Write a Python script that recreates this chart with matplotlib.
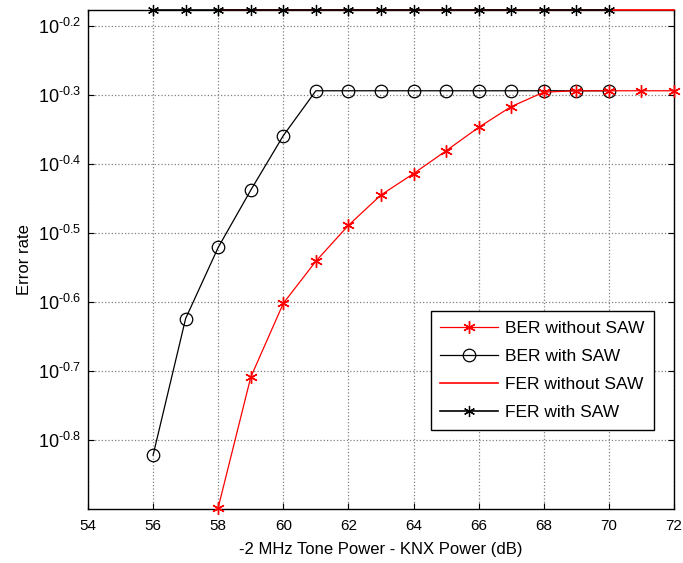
import numpy as np
import matplotlib
matplotlib.use('Agg')
import matplotlib.pyplot as plt
from matplotlib.ticker import FixedLocator, NullLocator

plt.rcParams['font.family'] = ['Liberation Sans', 'DejaVu Sans']
plt.rcParams['mathtext.fontset'] = 'custom'
plt.rcParams['mathtext.rm'] = 'Liberation Sans'
plt.rcParams['mathtext.it'] = 'Liberation Sans:italic'

# data (log10 of error rate)
x_ber_nosaw = [58, 59, 60, 61, 62, 63, 64, 65, 66, 67, 68, 69, 70, 71, 72]
log_ber_nosaw = [-0.898, -0.709, -0.602, -0.541, -0.489, -0.445, -0.414, -0.381,
                 -0.347, -0.317, -0.296, -0.294, -0.294, -0.294, -0.294]
x_ber_saw = [56, 57, 58, 59, 60, 61, 62, 63, 64, 65, 66, 67, 68, 69, 70]
log_ber_saw = [-0.822, -0.624, -0.521, -0.438, -0.359, -0.294, -0.294, -0.294,
               -0.294, -0.294, -0.294, -0.294, -0.294, -0.294, -0.294]
x_fer_nosaw = [58, 59, 60, 61, 62, 63, 64, 65, 66, 67, 68, 69, 70, 71, 72]
log_fer_nosaw = [-0.177] * 15
x_fer_saw = [56, 57, 58, 59, 60, 61, 62, 63, 64, 65, 66, 67, 68, 69, 70]
log_fer_saw = [-0.177] * 15

xticks = [54, 56, 58, 60, 62, 64, 66, 68, 70, 72]
ytick_exps = ['-0.8', '-0.7', '-0.6', '-0.5', '-0.4', '-0.3', '-0.2']

ber_nosaw = 10 ** np.array(log_ber_nosaw)
ber_saw = 10 ** np.array(log_ber_saw)
fer_nosaw = 10 ** np.array(log_fer_nosaw)
fer_saw = 10 ** np.array(log_fer_saw)

fig = plt.figure(figsize=(6.83, 5.63), dpi=100)
ax = fig.add_axes([0.1288, 0.0959, 0.858, 0.8863])

star = (6, 2, 0)
ax.plot(x_ber_nosaw, ber_nosaw, color='red', lw=0.9, marker=star, ms=9,
        mew=1.0, label='BER without SAW', clip_on=False, zorder=4)
ax.plot(x_ber_saw, ber_saw, color='black', lw=0.9, marker='o', ms=9,
        mfc='none', mew=0.9, label='BER with SAW', clip_on=False, zorder=3)
ax.plot(x_fer_nosaw, fer_nosaw, color='red', lw=1.2, label='FER without SAW',
        clip_on=False, zorder=3)
ax.plot(x_fer_saw, fer_saw, color='black', lw=1.2, marker=star, ms=8,
        mew=0.9, label='FER with SAW', clip_on=False, zorder=4)

ax.set_yscale('log')
ax.set_xlim(54, 72)
ax.set_ylim(10 ** -0.9, 10 ** -0.177)
ax.xaxis.set_major_locator(FixedLocator(xticks))
ax.yaxis.set_major_locator(FixedLocator([10 ** float(e) for e in ytick_exps]))
ax.yaxis.set_minor_locator(NullLocator())
ax.set_xticklabels([str(t) for t in xticks])
ax.set_yticklabels(['$10^{\\text{%s}}$' % e for e in ytick_exps])

ax.tick_params(direction='in', top=True, right=True, length=4)
ax.tick_params(axis='x', labelsize=11, pad=7)
ax.tick_params(axis='y', labelsize=13, pad=5)
ax.grid(True, which='major', linestyle=':', color='#808080', lw=0.9)
for s in ax.spines.values():
    s.set_linewidth(1.0)

ax.set_xlabel('-2 MHz Tone Power - KNX Power (dB)', fontsize=12, labelpad=7)
ax.set_ylabel('Error rate', fontsize=12)

leg = ax.legend(loc='upper left', bbox_to_anchor=(0.585, 0.397), fontsize=12.5,
                fancybox=False, framealpha=1, edgecolor='black',
                borderpad=0.55, labelspacing=0.75, handlelength=3.3,
                handletextpad=0.45, borderaxespad=0)
leg.get_frame().set_linewidth(1.0)

fig.savefig('out.png', dpi=100)
